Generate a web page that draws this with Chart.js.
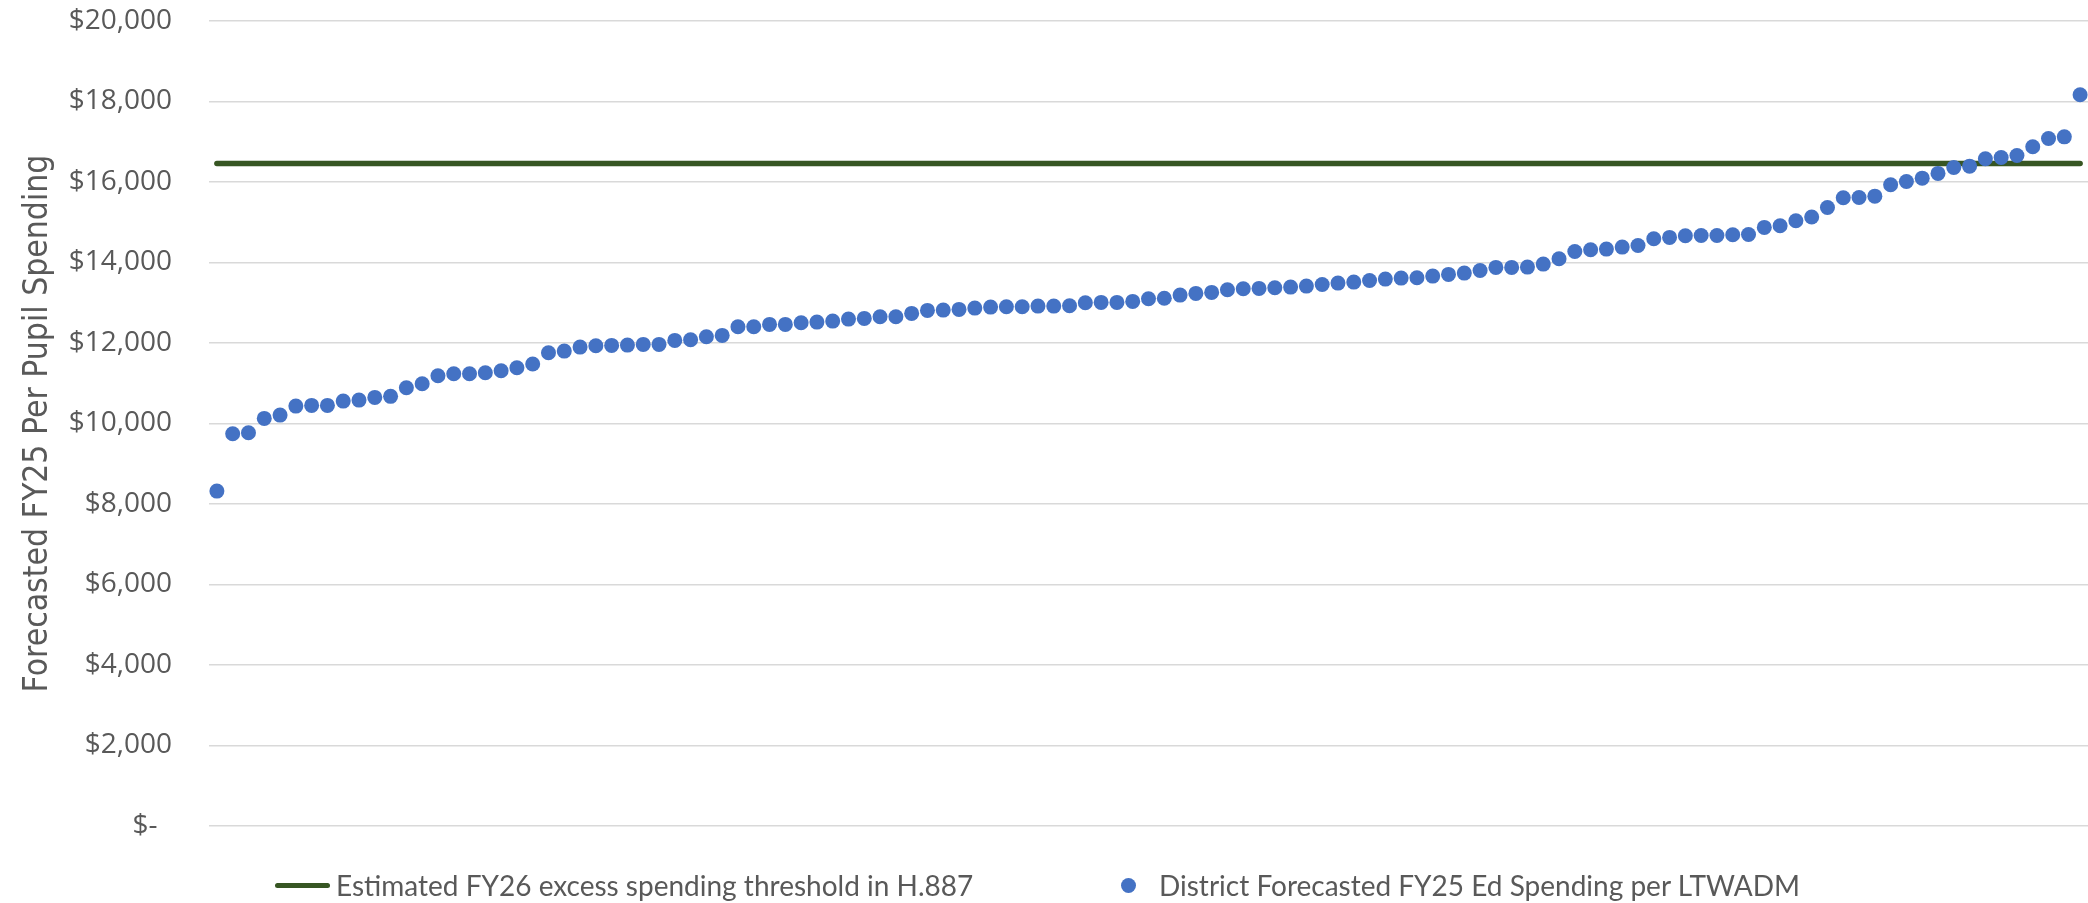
<!DOCTYPE html>
<html>
<head>
<meta charset="utf-8">
<script src="https://cdn.jsdelivr.net/npm/chart.js@4.4.1/dist/chart.umd.min.js"></script>
<style>
  body { margin: 0; background: #fff; }
  #wrap { position: relative; width: 2088px; height: 903px; }
  #legend { position: absolute; left: 0; top: 0; width: 2088px; height: 903px; pointer-events: none;
    font-family: Lato, sans-serif; font-size: 28px; color: #595959; }
  .item { position: absolute; top: 867px; height: 36px; line-height: 36px; white-space: nowrap; }
  .swatch-line { position: absolute; top: 883px; height: 5px; background: #375623; border-radius: 3px; }
  .swatch-dot { position: absolute; top: 878px; width: 15px; height: 15px; border-radius: 50%; background: #4472C4; }
</style>
</head>
<body>
<div id="wrap">
  <canvas id="chart" width="2088" height="903"></canvas>
  <div id="legend">
    <div class="swatch-line" style="left: 275px; width: 55px;"></div>
    <div class="item" style="left: 336px;">Estimated FY26 excess spending threshold in H.887</div>
    <div class="swatch-dot" style="left: 1121px;"></div>
    <div class="item" style="left: 1159px;">District Forecasted FY25 Ed Spending per LTWADM</div>
  </div>
</div>
<script>
// districts sorted by forecasted FY25 spending per pupil
const spending = [
  8320, 9745, 9770, 10127, 10209, 10433, 10450, 10450, 10557, 10582,
  10649, 10674, 10888, 10988, 11186, 11236, 11236, 11261, 11310, 11385,
  11480, 11757, 11799, 11898, 11931, 11940, 11948, 11965, 11965, 12065,
  12080, 12155, 12189, 12403, 12403, 12462, 12462, 12502, 12519, 12544,
  12594, 12611, 12652, 12652, 12735, 12810, 12817, 12835, 12867, 12892,
  12900, 12900, 12917, 12917, 12925, 12999, 13008, 13008, 13033, 13099,
  13112, 13190, 13232, 13257, 13322, 13347, 13356, 13372, 13389, 13414,
  13455, 13488, 13513, 13554, 13587, 13612, 13620, 13662, 13704, 13737,
  13800, 13878, 13878, 13886, 13960, 14092, 14275, 14316, 14333, 14382,
  14424, 14589, 14623, 14664, 14672, 14672, 14689, 14697, 14872, 14912,
  15036, 15130, 15368, 15607, 15616, 15649, 15931, 16014, 16096, 16213,
  16362, 16394, 16576, 16610, 16660, 16874, 17082, 17122, 18166
];
const threshold = 16460;
const yTicks = [0, 2000, 4000, 6000, 8000, 10000, 12000, 14000, 16000, 18000, 20000];

const districts = spending.map((_, i) => String(i + 1));
const thresholdLine = districts.map(() => threshold);

const tickFont = { family: "'Open Sans', sans-serif", size: 28 };

const formatDollar = (v) => {
  if (v === 0) return "$-  ";
  return "$" + v.toLocaleString("en-US");
};

new Chart(document.getElementById("chart"), {
  type: "line",
  data: {
    labels: districts,
    datasets: [
      {
        label: "District Forecasted FY25 Ed Spending per LTWADM",
        data: spending,
        showLine: false,
        pointRadius: 7.5,
        pointHoverRadius: 7.5,
        pointBorderWidth: 0,
        pointBackgroundColor: "#4472C4",
        backgroundColor: "#4472C4",
        borderColor: "#4472C4",
      },
      {
        label: "Estimated FY26 excess spending threshold in H.887",
        data: thresholdLine,
        borderColor: "#375623",
        backgroundColor: "#375623",
        borderWidth: 5.5,
        borderCapStyle: "round",
        pointRadius: 0,
        pointHoverRadius: 0,
      },
    ],
  },
  options: {
    responsive: false,
    animation: false,
    devicePixelRatio: 1,
    layout: { autoPadding: false, padding: { top: 21, right: 0, bottom: 0, left: 0 } },
    plugins: {
      legend: { display: false },
      tooltip: { enabled: false },
    },
    scales: {
      x: {
        offset: true,
        grid: { display: false },
        border: { display: false },
        ticks: { display: false },
        afterFit: (s) => { s.height = 77; },
      },
      y: {
        min: 0,
        max: 20000,
        afterBuildTicks: (s) => { s.ticks = yTicks.map((v) => ({ value: v })); },
        grid: { color: "#D9D9D9", lineWidth: 1.5, drawTicks: false },
        border: { display: false },
        ticks: {
          font: tickFont,
          color: "#595959",
          padding: 37,
          callback: (v) => formatDollar(v),
        },
        title: {
          display: true,
          text: "Forecasted FY25 Per Pupil Spending",
          font: { family: "'Liberation Sans Narrow', 'DejaVu Sans Condensed', Lato, sans-serif", size: 33.4 },
          color: "#595959",
          padding: { top: 18, bottom: 0 },
        },
        afterFit: (s) => {
          s.width = 209;
          s.paddingTop = 0;
          s.paddingBottom = 0;
        },
      },
    },
  },
});
</script>
</body>
</html>
